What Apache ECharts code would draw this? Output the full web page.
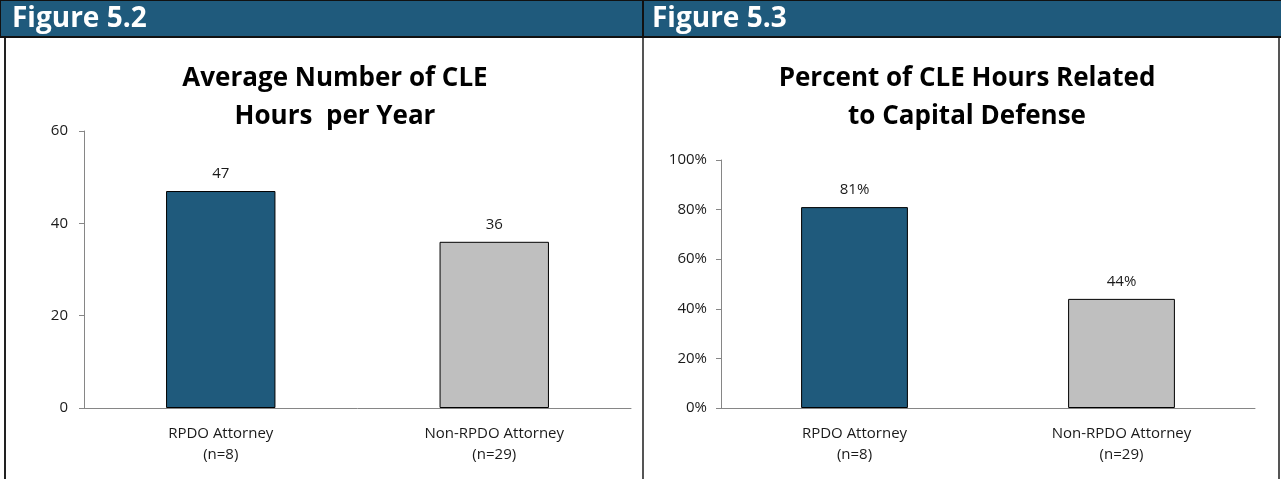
<!DOCTYPE html>
<html>
<head>
<meta charset="utf-8">
<style>
  html, body { margin: 0; padding: 0; background: #fff; }
  #chart { width: 1281px; height: 479px; }
</style>
<script src="https://cdn.jsdelivr.net/npm/echarts@6/dist/echarts.min.js"></script>
</head>
<body>
<div id="chart"></div>
<script>
// data
const categories = ['RPDO Attorney\n(n=8)', 'Non-RPDO Attorney\n(n=29)']
const cleHours = [47, 36]
const capitalPct = [81, 44]
const barColors = ['#1F5A7C', '#BFBFBF']
const hoursTicks = [0, 20, 40, 60]
const pctTicks = [0, 20, 40, 60, 80, 100]

const font = '"Open Sans", "Noto Sans", sans-serif'
const headBlue = '#1F5A7C'

const chart = echarts.init(document.getElementById('chart'), null, { renderer: 'canvas' })

function barData(values) {
  return values.map((v, i) => ({
    value: v,
    itemStyle: { color: barColors[i], borderColor: '#000', borderWidth: 1 }
  }))
}

const axisLabelStyle = { color: '#1a1a1a', fontSize: 15, fontFamily: font }
const titleStyle = { fontSize: 26, fontWeight: 'bold', fontFamily: font, color: '#000', lineHeight: 38 }

chart.setOption({
  animation: false,
  title: [
    {
      text: 'Average Number of CLE\nHours  per Year',
      left: 330, top: 55, textAlign: 'center',
      textStyle: titleStyle
    },
    {
      text: 'Percent of CLE Hours Related\nto Capital Defense',
      left: 962, top: 55, textAlign: 'center',
      textStyle: titleStyle
    }
  ],
  graphic: [
    // panel borders
    { type: 'rect', shape: { x: 5, y: 37, width: 638, height: 450 }, style: { fill: 'none', stroke: '#222', lineWidth: 2 }, z: 10 },
    { type: 'rect', shape: { x: 643, y: 37, width: 636, height: 450 }, style: { fill: 'none', stroke: '#555', lineWidth: 2 }, z: 10 },
    // header bars
    { type: 'rect', shape: { x: 0, y: 0, width: 643, height: 37 }, style: { fill: headBlue, stroke: '#111', lineWidth: 2 }, z: 11 },
    { type: 'rect', shape: { x: 643, y: 0, width: 640, height: 37 }, style: { fill: headBlue, stroke: '#111', lineWidth: 2 }, z: 11 },
    { type: 'text', x: 12, y: 19, style: { text: 'Figure 5.2', fill: '#fff', font: 'bold 28px ' + font, textVerticalAlign: 'middle' }, z: 12 },
    { type: 'text', x: 652, y: 19, style: { text: 'Figure 5.3', fill: '#fff', font: 'bold 28px ' + font, textVerticalAlign: 'middle' }, z: 12 }
  ],
  grid: [
    { left: 84, top: 131, width: 547, height: 277 },
    { left: 721, top: 160, width: 534, height: 248 }
  ],
  xAxis: [0, 1].map(g => ({
    type: 'category',
    gridIndex: g,
    data: categories,
    axisLine: { lineStyle: { color: '#868686' } },
    axisTick: { lineStyle: { color: '#868686' }, length: 5 },
    axisLabel: Object.assign({ margin: 15, lineHeight: 21 }, axisLabelStyle)
  })),
  yAxis: [
    {
      type: 'value', gridIndex: 0,
      min: hoursTicks[0], max: hoursTicks[hoursTicks.length - 1], interval: 20,
      axisLine: { show: true, lineStyle: { color: '#868686' } },
      axisTick: { show: true, length: 5, lineStyle: { color: '#868686' } },
      splitLine: { show: false },
      axisLabel: Object.assign({ margin: 16 }, axisLabelStyle)
    },
    {
      type: 'value', gridIndex: 1,
      min: pctTicks[0], max: pctTicks[pctTicks.length - 1], interval: 20,
      axisLine: { show: true, lineStyle: { color: '#868686' } },
      axisTick: { show: true, length: 5, lineStyle: { color: '#868686' } },
      splitLine: { show: false },
      axisLabel: Object.assign({ margin: 14, formatter: '{value}%' }, axisLabelStyle)
    }
  ],
  series: [
    {
      type: 'bar', xAxisIndex: 0, yAxisIndex: 0,
      barWidth: '40%',
      data: barData(cleHours),
      label: Object.assign({ show: true, position: 'top', distance: 10 }, axisLabelStyle)
    },
    {
      type: 'bar', xAxisIndex: 1, yAxisIndex: 1,
      barWidth: '40%',
      data: barData(capitalPct),
      label: Object.assign({ show: true, position: 'top', distance: 10, formatter: '{c}%' }, axisLabelStyle)
    }
  ]
})
</script>
</body>
</html>
